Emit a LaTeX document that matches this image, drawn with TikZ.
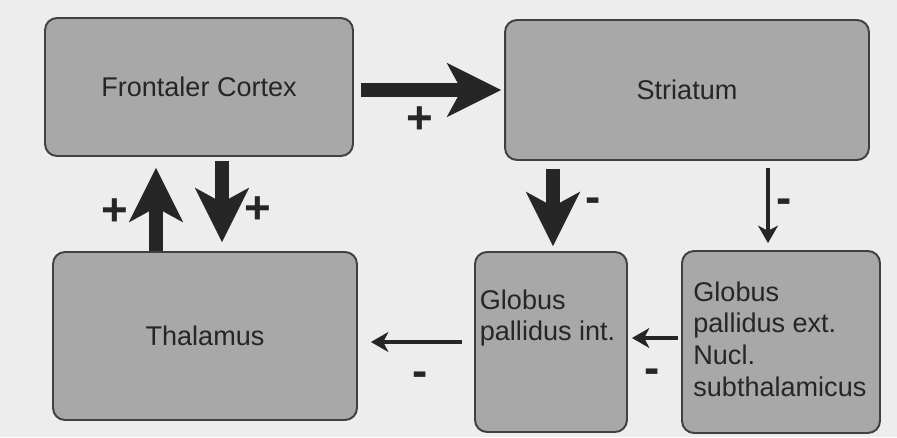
\documentclass[tikz,border=0pt]{standalone}
\usepackage{fontspec}
\setmainfont{Liberation Sans}
\usetikzlibrary{arrows.meta,calc}
\begin{document}
\begin{tikzpicture}[x=0.02cm, y=-0.02cm, line join=round,
	box/.style={draw=black!75, line width=1.1pt, fill=black!34, rounded corners=0.24cm, inner sep=0pt, text=black!85, font=\fontsize{15.4}{18.2}\selectfont},
	gptext/.style={anchor=north west, inner sep=0pt, align=left, text=black!85, font=\fontsize{15.4}{18.2}\selectfont},
	sign/.style={inner sep=0pt, text=black!85, font=\fontsize{26}{26}\selectfont\bfseries},
	bigarrow/.style={draw=black!85, line width=7.7pt, -{Stealth[length=31pt, width=31pt, inset=8.5pt, line width=0pt]}},
	thinarrow/.style={draw=black!85, line width=2.6pt, -{Stealth[length=10pt, width=11.5pt, inset=3pt, line width=0pt]}}]
	% Hintergrund
	\fill[black!7] (0,0) rectangle (897,437);
	\useasboundingbox (0,0) rectangle (897,437);
	
	% Kästen
	\node[box, minimum width=6.16cm, minimum height=2.76cm] (fc) at (199,87) {Frontaler Cortex};
	\node[box, minimum width=7.28cm, minimum height=2.8cm] (str) at (687,90) {Striatum};
	\node[box, minimum width=6.08cm, minimum height=3.36cm] (thal) at (205,336) {Thalamus};
	\node[box, minimum width=3.04cm, minimum height=3.6cm] (gpi) at (551,342) {};
	\node[box, minimum width=3.96cm, minimum height=3.64cm] (gpe) at (781,342) {};
	\node[gptext] (gpitext) at ($(gpi.north west)+(5.5,38)$) {Globus\\pallidus int.};
	\node[gptext] (gpetext) at ($(gpe.north west)+(12,31)$) {Globus\\pallidus ext.\\Nucl.\\subthalamicus};
	
	% Pfeile
	\draw[bigarrow] ($(fc.east)+(7,3)$) -- ($(str.west)+(-3,0)$);
	\draw[bigarrow] ($(thal.north)+(-49,0)$) -- ($(fc.south)+(-43,11)$);
	\draw[bigarrow] ($(fc.south)+(23,4)$) -- ($(thal.north)+(17,-9)$);
	\draw[bigarrow] ($(str.south)+(-134,8)$) -- ($(gpi.north)+(2,-5)$);
	\draw[thinarrow] ($(str.south)+(81,7)$) -- ($(gpe.north)+(-13,-7)$);
	\draw[thinarrow] ($(gpe.west)+(-3,-4)$) -- ($(gpi.east)+(4,-4)$);
	\draw[thinarrow] ($(gpi.west)+(-12,0)$) -- ($(thal.east)+(13,6)$);
	
	% Vorzeichen
	\node[sign] (plusfs) at (420,120) {+};
	\node[sign] (plustf) at (115,212) {+};
	\node[sign] (plusft) at (258,210) {+};
	\node[sign] (minussi) at (593,205) {-};
	\node[sign] (minusse) at (784,206) {-};
	\node[sign] (minusei) at (652,376) {-};
	\node[sign] (minusit) at (420,379) {-};
\end{tikzpicture}
\end{document}
